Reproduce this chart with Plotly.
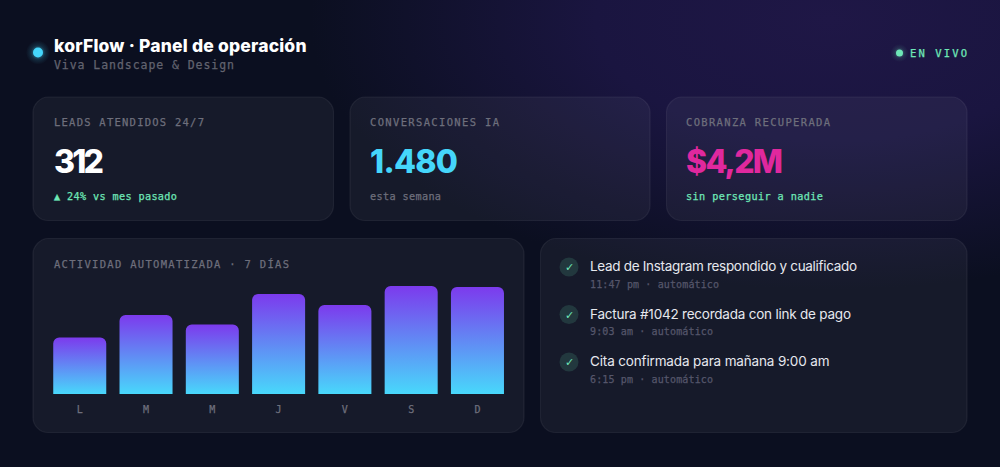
import json
from urllib.parse import quote
import plotly.graph_objects as go

# ---------- data ----------
days = ["L", "M", "M", "J", "V", "S", "D"]
activity = [56.5, 79, 69.5, 100, 89, 108, 107]

kpi_labels = ["LEADS ATENDIDOS 24/7", "CONVERSACIONES IA", "COBRANZA RECUPERADA"]
kpi_values = ["312", "1.480", "$4,2M"]
kpi_notes = ["▲ 24% vs mes pasado", "esta semana", "sin perseguir a nadie"]

feed_titles = ["Lead de Instagram respondido y cualificado",
               "Factura #1042 recordada con link de pago",
               "Cita confirmada para mañana 9:00 am"]
feed_times = ["11:47 pm · automático", "9:03 am · automático", "6:15 pm · automático"]

title_text = "korFlow · Panel de operación"
subtitle_text = "Viva Landscape & Design"
live_text = "EN VIVO"
chart_title = "ACTIVIDAD AUTOMATIZADA · 7 DÍAS"

# ---------- style ----------
W, H = 1000, 467
MONO = "DejaVu Sans Mono"
SANS = "Inter"
GREY = "#6e6f7c"
GREEN = "#6ee7b7"
CYAN = "#45d6fb"
PINK = "#e0289e"

def fx(p): return p / W
def fy(p): return 1 - p / H

shapes, annotations, widths = [], [], {}

def card(x0, y0, x1, y1, r=15):
    a, b, c, d = fx(x0), fy(y0), fx(x1), fy(y1)
    rx, ry = r / W, r / H
    k = 0.45
    path = (f"M{a+rx},{b} L{c-rx},{b} C{c-rx*k},{b} {c},{b-ry*(1-k)} {c},{b-ry} "
            f"L{c},{d+ry} C{c},{d+ry*k} {c-rx*k},{d} {c-rx},{d} "
            f"L{a+rx},{d} C{a+rx*k},{d} {a},{d+ry*k} {a},{d+ry} "
            f"L{a},{b-ry} C{a},{b-ry*(1-k)} {a+rx*k},{b} {a+rx},{b} Z")
    shapes.append(dict(type="path", xref="paper", yref="paper", path=path, layer="below",
                       fillcolor="rgba(255,255,255,0.048)",
                       line=dict(color="rgba(255,255,255,0.065)", width=1.2)))

def dot(cx, cy, r, color):
    shapes.append(dict(type="circle", xref="paper", yref="paper", layer="below",
                       x0=fx(cx - r), x1=fx(cx + r), y0=fy(cy + r), y1=fy(cy - r),
                       fillcolor=color, line=dict(width=0)))

def label(x, y, text, size, color, family=MONO, weight=400, target=None, anchor="left"):
    annotations.append(dict(xref="paper", yref="paper", x=fx(x), y=fy(y), text=text,
                            showarrow=False, xanchor=anchor, yanchor="middle",
                            borderpad=0, borderwidth=0,
                            font=dict(family=family, size=size, color=color, weight=weight)))
    if target:
        widths[text] = target

# background painting (soft violet wash, glows behind the two status dots)
bg_svg = f"""<svg xmlns='http://www.w3.org/2000/svg' width='{W}' height='{H}' viewBox='0 0 {W} {H}'>
<defs>
<radialGradient id='a' gradientUnits='userSpaceOnUse' cx='0' cy='0' r='1' gradientTransform='translate(830 20) scale(520 270)'>
<stop offset='0' stop-color='#1f1746'/><stop offset='0.45' stop-color='#1a1540'/><stop offset='1' stop-color='#0b0f20'/></radialGradient>
<radialGradient id='c'><stop offset='0.3' stop-color='{CYAN}' stop-opacity='.45'/><stop offset='0.6' stop-color='{CYAN}' stop-opacity='.14'/><stop offset='1' stop-color='{CYAN}' stop-opacity='0'/></radialGradient>
<radialGradient id='g'><stop offset='0.3' stop-color='{GREEN}' stop-opacity='.3'/><stop offset='0.6' stop-color='{GREEN}' stop-opacity='.1'/><stop offset='1' stop-color='{GREEN}' stop-opacity='0'/></radialGradient>
</defs>
<rect width='{W}' height='{H}' fill='#0b0f20'/>
<rect width='{W}' height='{H}' fill='url(#a)'/>
<circle cx='38' cy='52.5' r='12' fill='url(#c)'/>
<circle cx='899.5' cy='53' r='9' fill='url(#g)'/>
</svg>"""
bg_image = dict(source="data:image/svg+xml," + quote(bg_svg), xref="paper", yref="paper",
                x=0, y=1, sizex=1, sizey=1, sizing="stretch", layer="below",
                xanchor="left", yanchor="top")

# ---------- header ----------
dot(38, 52.5, 5, CYAN)
label(54, 46, title_text, 17.5, "#ffffff", SANS, 800, 252.5)
label(54, 65, subtitle_text, 11.5, "#62636f", target=180)
dot(899.5, 53, 3.5, GREEN)
label(910, 53, live_text, 10.5, GREEN, target=57)

# ---------- KPI cards ----------
card_x = [(33, 333.5), (350, 650), (666.5, 967)]
text_x = [54, 370, 685.5]
value_colors = ["#ffffff", CYAN, PINK]
note_colors = [GREEN, GREY, GREEN]
label_w = [150, 129, 144]
value_w = [50, 88, 97]
note_w = [123, 71, 137]
for i in range(3):
    card(card_x[i][0], 97, card_x[i][1], 220.5)
    label(text_x[i], 122, kpi_labels[i], 10.5, GREY, target=label_w[i])
    label(text_x[i], 162, kpi_values[i], 32, value_colors[i], SANS, 800, value_w[i])
    label(text_x[i], 196, kpi_notes[i], 10.2, note_colors[i], target=note_w[i])

# ---------- chart card ----------
card(33, 238.5, 524, 432.5)
label(54, 264, chart_title, 10.5, GREY, target=235)

# ---------- feed card ----------
card(540.5, 238.5, 967, 432.5)
feed_y = [266, 313.5, 361]
time_y = [284, 331, 379]
title_w = [267, 261, 239.5]
time_w = [129, 123, 123]
for i in range(3):
    dot(569, feed_y[i] + 1, 9.5, "rgba(110,231,183,0.15)")
    label(569, feed_y[i] + 1.5, "✓", 11, GREEN, "DejaVu Sans", 700, anchor="center")
    label(590, feed_y[i], feed_titles[i], 13.5, "#e6e8ee", SANS, 400, title_w[i])
    label(590, time_y[i], feed_times[i], 10, "#55566a", target=time_w[i])

# ---------- figure ----------
fig = go.Figure(go.Bar(x=list(range(len(days))), y=activity,
                       marker=dict(color=CYAN, line=dict(width=0)), hoverinfo="skip"))
fig.update_layout(
    width=W, height=H, autosize=False, showlegend=False,
    margin=dict(l=0, r=0, t=0, b=0),
    paper_bgcolor="#0b0f20", plot_bgcolor="rgba(0,0,0,0)",
    bargap=0.2, barcornerradius=6,
    shapes=shapes, annotations=annotations, images=[bg_image],
    xaxis=dict(domain=[fx(46.6), fx(510.6)], range=[-0.5, 6.5], tickmode="array",
               tickvals=list(range(len(days))), ticktext=days, showgrid=False, zeroline=False,
               showline=False, ticks="outside", ticklen=6, tickcolor="rgba(0,0,0,0)",
               tickfont=dict(family=MONO, size=10, color=GREY), fixedrange=True),
    yaxis=dict(domain=[fy(394), fy(274)], range=[0, 120], visible=False, fixedrange=True),
)

post = """
document.body.style.margin='0';
document.body.style.overflow='hidden';
document.body.style.background='#0b0f20';
var gd=document.getElementById('{plot_id}');
var targets=%s;
function fixAll(){
  var svg=gd.querySelector('.main-svg'), defs=svg.querySelector('defs');
  if(!document.getElementById('barGrad')){
    var ns='http://www.w3.org/2000/svg', g=document.createElementNS(ns,'linearGradient');
    g.setAttribute('id','barGrad');g.setAttribute('x1','0');g.setAttribute('y1','0');
    g.setAttribute('x2','0');g.setAttribute('y2','1');
    [['0','#7c3aed'],['1','#48d8fb']].forEach(function(s){
      var st=document.createElementNS(ns,'stop');st.setAttribute('offset',s[0]);
      st.setAttribute('stop-color',s[1]);g.appendChild(st);});
    defs.appendChild(g);
  }
  gd.querySelectorAll('.barlayer .point path').forEach(function(p){
    p.style.setProperty('fill','url(#barGrad)');});
  gd.querySelectorAll('.annotation-text, .xtick text').forEach(function(t){
    if(t.style.fontFamily.indexOf('Mono')>=0){
      t.style.stroke=t.style.fill;t.style.strokeWidth='0.25px';
    }
  });
  gd.querySelectorAll('.annotation-text').forEach(function(t){
    var w=targets[t.textContent];
    if(!w||t.dataset.done)return;
    var b=t.getBBox(), n=t.textContent.length;
    var len=t.getComputedTextLength();
    t.style.letterSpacing=((w-len)/(n-1))+'px';
    t.style.textAnchor='start';t.setAttribute('text-anchor','start');
    t.setAttribute('x',b.x);t.dataset.done='1';
  });
}
fixAll();gd.on('plotly_afterplot',fixAll);setTimeout(fixAll,200);
""" % json.dumps(widths, ensure_ascii=False)

fig.write_html("out.html", post_script=post, config=dict(displayModeBar=False, responsive=False))
